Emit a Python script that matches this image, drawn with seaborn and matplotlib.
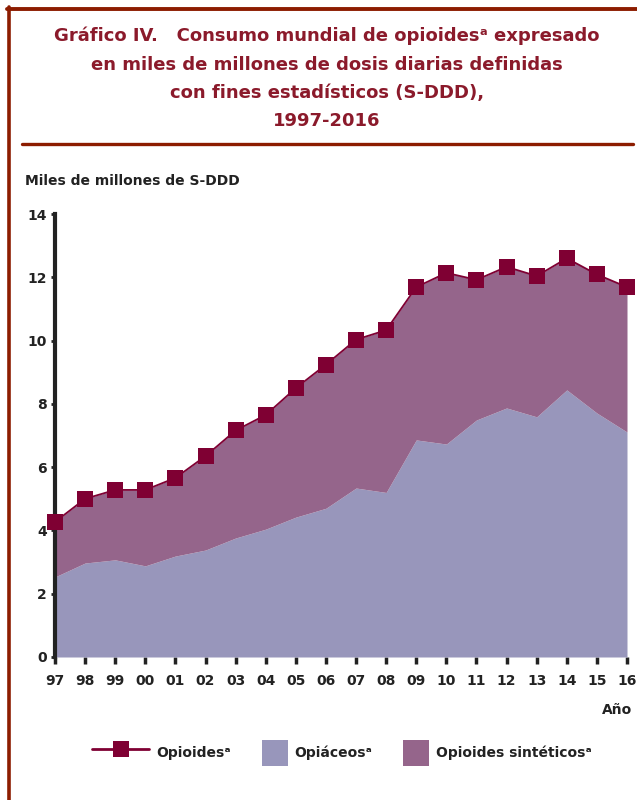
import matplotlib
matplotlib.use('Agg')
import matplotlib.pyplot as plt
from matplotlib.lines import Line2D
from matplotlib.patches import Patch, Rectangle
from matplotlib.legend_handler import HandlerPatch
import seaborn as sns
import pandas as pd

# datos (miles de millones de S-DDD)
anios = list(range(1997, 2017))
etiquetas = ['97', '98', '99', '00', '01', '02', '03', '04', '05', '06',
             '07', '08', '09', '10', '11', '12', '13', '14', '15', '16']
opioides = [4.27, 5.00, 5.28, 5.28, 5.66, 6.35, 7.16, 7.65, 8.50, 9.24,
            10.03, 10.33, 11.69, 12.14, 11.92, 12.33, 12.04, 12.60, 12.09, 11.69]
opiaceos = [2.53, 2.97, 3.07, 2.88, 3.19, 3.38, 3.76, 4.04, 4.42, 4.70,
            5.34, 5.20, 6.86, 6.73, 7.49, 7.87, 7.59, 8.44, 7.71, 7.11]
sinteticos = [1.74, 2.03, 2.21, 2.40, 2.47, 2.97, 3.40, 3.61, 4.08, 4.54,
              4.69, 5.13, 4.83, 5.41, 4.43, 4.46, 4.45, 4.16, 4.38, 4.58]

df = pd.DataFrame({'anio': anios, 'opioides': opioides})

C_OPIACEOS = '#9896bb'
C_SINTETICOS = '#95658b'
C_MARCA = '#7f0033'
C_MARCO = '#8c1c00'
C_TITULO = '#8b1a2b'
C_TEXTO = '#222222'

sns.set_style('white')
plt.rcParams['font.family'] = ['DejaVu Sans']

fig = plt.figure(figsize=(6.37, 8.0), dpi=100)
ax = fig.add_axes([55 / 637, 1 - 657 / 800, 572 / 637, 443 / 800])

ax.stackplot(anios, opiaceos, sinteticos, colors=[C_OPIACEOS, C_SINTETICOS],
             linewidth=0)
sns.lineplot(data=df, x='anio', y='opioides', ax=ax, color=C_MARCA,
             marker='s', markersize=11.5, markeredgewidth=0, linewidth=1.3,
             clip_on=False, zorder=5)

ax.set_xlim(1997, 2016)
ax.set_ylim(0, 14)
ax.set_xticks(anios)
ax.set_xticklabels(etiquetas)
ax.set_yticks(range(0, 15, 2))
ax.set_xlabel('')
ax.set_ylabel('')

for s in ['top', 'right', 'bottom']:
    ax.spines[s].set_visible(False)
ax.spines['left'].set_color(C_TEXTO)
ax.spines['left'].set_linewidth(3)

ax.tick_params(axis='x', direction='out', length=5, width=2.5, color=C_TEXTO,
               pad=7, labelsize=10, bottom=True)
ax.tick_params(axis='y', direction='out', length=3, width=2, color=C_TEXTO,
               pad=3, labelsize=10, left=True)
for t in ax.get_xticklabels() + ax.get_yticklabels():
    t.set_fontweight('bold')
    t.set_color(C_TEXTO)

# textos
fig.text(25 / 637, 1 - 181 / 800, 'Miles de millones de S-DDD', fontsize=10,
         fontweight='bold', color=C_TEXTO, ha='left', va='center')
fig.text(602 / 637, 1 - 710 / 800, 'Año', fontsize=10, fontweight='bold',
         color=C_TEXTO, ha='left', va='center')

titulo = ['Gráfico IV.   Consumo mundial de opioidesᵃ expresado',
          'en miles de millones de dosis diarias definidas',
          'con fines estadísticos (S-DDD),',
          '1997-2016']
for i, linea in enumerate(titulo):
    fig.text(327 / 637, 1 - (36 + 28.5 * i) / 800, linea, fontsize=13,
             fontweight='bold', color=C_TITULO, ha='center', va='center')

# marco
fig.add_artist(Line2D([8.8 / 637, 8.8 / 637], [0, 1 - 6.5 / 800],
                      color=C_MARCO, linewidth=2.6))
fig.add_artist(Line2D([7 / 637, 1], [1 - 8.5 / 800, 1 - 8.5 / 800],
                      color=C_MARCO, linewidth=2.8))
fig.add_artist(Line2D([22 / 637, 633 / 637], [1 - 143.5 / 800, 1 - 143.5 / 800],
                      color=C_MARCO, linewidth=2.4))


class CuadroDerecha(HandlerPatch):
    def create_artists(self, legend, orig_handle, xdescent, ydescent, width,
                       height, fontsize, trans):
        lado = height
        r = Rectangle((-xdescent + width - lado, -ydescent), lado, lado,
                      facecolor=orig_handle.get_facecolor(), edgecolor='none',
                      transform=trans)
        return [r]


h_linea = Line2D([], [], color=C_MARCA, marker='s', markersize=11,
                 markeredgewidth=0, linewidth=2)
h_opi = Patch(facecolor=C_OPIACEOS)
h_sin = Patch(facecolor=C_SINTETICOS)
leg = fig.legend([h_linea, h_opi, h_sin],
                 ['Opioidesᵃ', 'Opiáceosᵃ', 'Opioides sintéticosᵃ'],
                 loc='center', bbox_to_anchor=(342 / 637, 1 - 753 / 800),
                 ncol=3, frameon=False, handlelength=4.1, handleheight=2.5,
                 handletextpad=0.5, columnspacing=0.0,
                 handler_map={Patch: CuadroDerecha()},
                 prop={'size': 10, 'weight': 'bold'})
for t in leg.get_texts():
    t.set_color(C_TEXTO)

fig.savefig('out.png', dpi=100)
